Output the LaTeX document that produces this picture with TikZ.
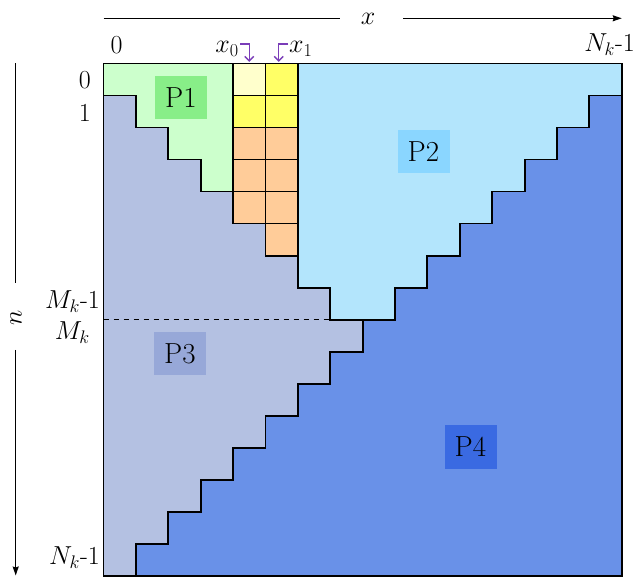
\documentclass[tikz,border=0pt]{standalone}
\usepackage{fix-cm}
\usetikzlibrary{arrows.meta}
\definecolor{cpone}{HTML}{CCFFCC}
\definecolor{cponeb}{HTML}{88EE88}
\definecolor{cptwo}{HTML}{B3E5FC}
\definecolor{cptwob}{HTML}{8AD6FF}
\definecolor{cpthree}{HTML}{B4C1E2}
\definecolor{cpthreeb}{HTML}{97A8D8}
\definecolor{cpfour}{HTML}{6991E8}
\definecolor{cpfourb}{HTML}{3A6AE2}
\definecolor{cyl}{HTML}{FFFFCC}
\definecolor{cy}{HTML}{FFFF66}
\definecolor{cor}{HTML}{FFCC99}
\definecolor{purp}{HTML}{7A3DB8}
\begin{document}
\begin{tikzpicture}[x=1pt,y=-1pt,
  reg/.style={draw=black,line width=1.9pt,line join=miter},
  cellbox/.style={draw=black,line width=1.6pt},
  plab/.style={font=\fontsize{29}{31}\selectfont,minimum width=52pt,minimum height=43pt,inner sep=0pt},
  axlab/.style={font=\fontsize{26}{28}\selectfont,inner sep=0pt},
  axarrow/.style={line width=1.2pt,-{Stealth[length=9pt,width=6pt,inset=1pt]}},
  parrow/.style={draw=purp,line width=1.4pt,-{Straight Barb[length=4.5pt,width=9pt]}}]
\useasboundingbox (0,0) rectangle (635,577);

\begin{scope}[shift={(103.5,63.5)},x=32.39pt,y=-32.01pt]
  % P4 background
  \fill[cpfour] (0,0) rectangle (16,16);
  % P2
  \filldraw[reg,fill=cptwo] (6,0) -- (16,0) -- (16,1) -- (15,1) -- (15,2) -- (14,2) -- (14,3)
    -- (13,3) -- (13,4) -- (12,4) -- (12,5) -- (11,5) -- (11,6) -- (10,6) -- (10,7)
    -- (9,7) -- (9,8) -- (7,8) -- (7,7) -- (6,7) -- cycle;
  % P3
  \filldraw[reg,fill=cpthree] (0,1) -- (1,1) -- (1,2) -- (2,2) -- (2,3) -- (3,3) -- (3,4)
    -- (4,4) -- (4,5) -- (5,5) -- (5,6) -- (6,6) -- (6,7) -- (7,7) -- (7,8) -- (8,8)
    -- (8,9) -- (7,9) -- (7,10) -- (6,10) -- (6,11) -- (5,11) -- (5,12) -- (4,12)
    -- (4,13) -- (3,13) -- (3,14) -- (2,14) -- (2,15) -- (1,15) -- (1,16) -- (0,16) -- cycle;
  % P1
  \filldraw[reg,fill=cpone] (0,0) -- (4,0) -- (4,4) -- (3,4) -- (3,3) -- (2,3) -- (2,2)
    -- (1,2) -- (1,1) -- (0,1) -- cycle;
  % highlighted cells
  \filldraw[cellbox,fill=cyl] (4,0) rectangle (5,1);
  \filldraw[cellbox,fill=cy] (5,0) rectangle (6,1);
  \filldraw[cellbox,fill=cy] (4,1) rectangle (5,2);
  \filldraw[cellbox,fill=cy] (5,1) rectangle (6,2);
  \foreach \r in {2,3,4} {\filldraw[cellbox,fill=cor] (4,\r) rectangle (5,\r+1);}
  \foreach \r in {2,3,4,5} {\filldraw[cellbox,fill=cor] (5,\r) rectangle (6,\r+1);}
  % outer frame
  \draw[reg] (0,0) rectangle (16,16);
  % dashed line at M_k
  \draw[line width=1.2pt,dash pattern=on 5pt off 5pt] (0,8) -- (8.28,8);
  % arrow targets
  \coordinate (tzero) at (4.5,-0.05);
  \coordinate (tone) at (5.41,-0.05);
\end{scope}

% region labels
\node[plab,fill=cponeb] (lp1) at (181,98) {P1};
\node[plab,fill=cptwob] (lp2) at (423.5,151.5) {P2};
\node[plab,fill=cpthreeb] (lp3) at (180,354) {P3};
\node[plab,fill=cpfourb] (lp4) at (470.5,447) {P4};

% axis labels
\node[axlab] (xzero) at (116.5,45) {0};
\node[axlab,anchor=east] (xzlab) at (239,49) {$x_0$};
\node[axlab,anchor=west] (xolab) at (289,49) {$x_1$};
\node[axlab,anchor=east] (xnk) at (635,45) {$N_k$-1};
\node[axlab] (xlab) at (368,19) {$x$};
\node[axlab,anchor=east] (nzero) at (91,80) {0};
\node[axlab,anchor=east] (none) at (91,113) {1};
\node[axlab,anchor=east] (nmkm) at (100,302) {$M_k$-1};
\node[axlab,anchor=east] (nmk) at (90,333) {$M_k$};
\node[axlab,anchor=east] (nnk) at (100,558) {$N_k$-1};
\node[axlab,rotate=90] (nlab) at (16,318) {$n$};

% axis arrows
\coordinate (xs) at (103.5,18.3);
\coordinate (xm1) at (340,18.3);
\coordinate (xm2) at (403,18.3);
\coordinate (xe) at (621.7,18.3);
\draw[line width=1.2pt] (xs) -- (xm1);
\draw[axarrow] (xm2) -- (xe);
\coordinate (ns) at (15.7,63.5);
\coordinate (nm1) at (15.7,283);
\coordinate (nm2) at (15.7,350);
\coordinate (ne) at (15.7,575.5);
\draw[line width=1.2pt] (ns) -- (nm1);
\draw[axarrow] (nm2) -- (ne);

% purple arrows
\coordinate (azero) at (240,44);
\coordinate (aone) at (288.3,44);
\draw[parrow] (azero) -| (tzero);
\draw[parrow] (aone) -| (tone);
\end{tikzpicture}
\end{document}
